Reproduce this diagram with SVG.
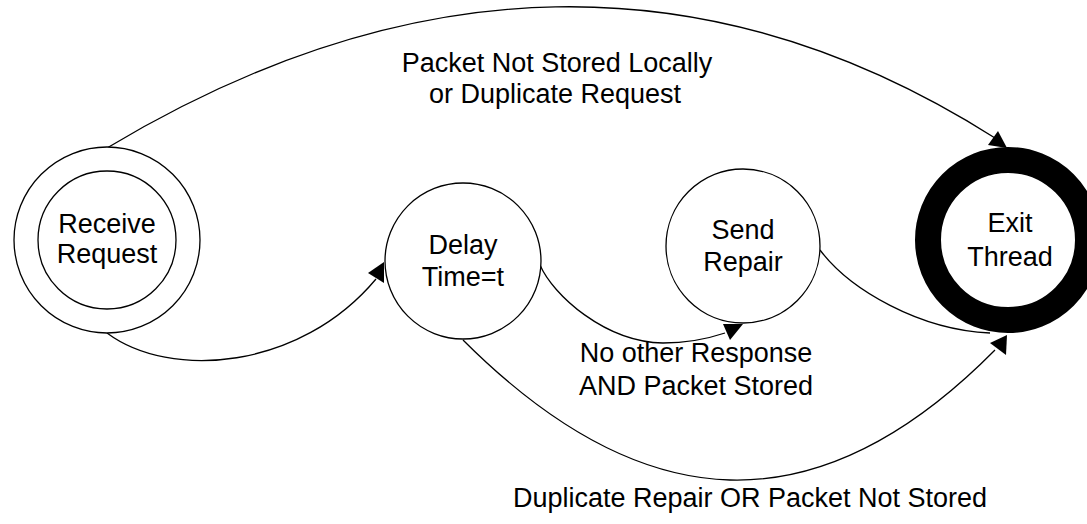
<svg xmlns="http://www.w3.org/2000/svg" width="1087" height="524" viewBox="0 0 1087 524">
<style>
.st{fill:#fff;stroke:#000;stroke-width:1.3}
.lbl{font-family:"Liberation Sans",Arial,sans-serif;font-size:27px;fill:#000;text-anchor:middle}
.con{fill:none;stroke:#000;stroke-width:1.3}
.ah{fill:#000;stroke:none}
</style>
<rect width="1087" height="524" fill="#fff"/>
<g id="connectors">
<path class="con" d="M107,148 C407,-32 707,-45 995,138"/>
<polygon class="ah" points="998,131 988,145 1007,148"/>
<path class="con" d="M107,333 C170,380 300,370 376,279"/>
<polygon class="ah" points="368,273 384,262 384,283"/>
<path class="con" d="M540,265 C553,295 605,342 663,343 C690,343 710,338 725,333"/>
<polygon class="ah" points="723,324 743,324 730,340"/>
<path class="con" d="M820,250 C850,290 920,330 990,333"/>
<path class="con" d="M463,340 C643,520 817,530 995,350"/>
<polygon class="ah" points="990,343 1007,335 1006,355"/>
</g>
<g id="receive">
<circle class="st" cx="107" cy="240" r="93"/>
<circle class="st" cx="107" cy="240" r="69"/>
<text class="lbl" x="107" y="233">Receive</text>
<text class="lbl" x="107" y="263">Request</text>
</g>
<g id="delay">
<circle class="st" cx="463" cy="261" r="78"/>
<text class="lbl" x="463" y="254">Delay</text>
<text class="lbl" x="463" y="286">Time=t</text>
</g>
<g id="send">
<circle class="st" cx="743" cy="246" r="77"/>
<text class="lbl" x="743" y="239">Send</text>
<text class="lbl" x="743" y="271">Repair</text>
</g>
<g id="exit">
<circle cx="1008" cy="240" r="80" fill="#fff" stroke="#000" stroke-width="26"/>
<text class="lbl" x="1010" y="232">Exit</text>
<text class="lbl" x="1010" y="266">Thread</text>
</g>
<g id="labels">
<text class="lbl" x="557" y="72">Packet Not Stored Locally</text>
<text class="lbl" x="555" y="103">or Duplicate Request</text>
<text class="lbl" x="696" y="362">No other Response</text>
<text class="lbl" x="696" y="395">AND Packet Stored</text>
<text class="lbl" x="750" y="507">Duplicate Repair OR Packet Not Stored</text>
</g>
</svg>
